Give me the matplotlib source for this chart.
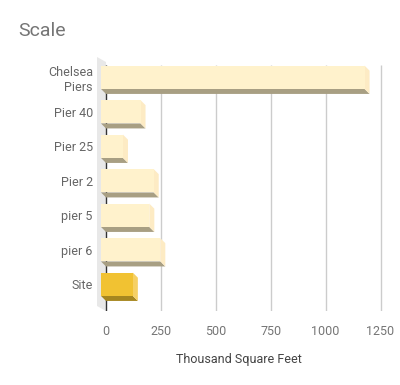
import numpy as np
import matplotlib.pyplot as plt
from matplotlib.patches import Polygon

plt.rcParams['font.family'] = ['Roboto', 'DejaVu Sans']

categories = ['Chelsea\nPiers', 'Pier 40', 'Pier 25', 'Pier 2', 'pier 5', 'pier 6', 'Site']
values = [1200, 180, 100, 240, 220, 270, 145]
x_ticks = [0, 250, 500, 750, 1000, 1250]

front_cols = ['#FFF2CC'] * 6 + ['#F1C232']
side_cols = ['#FDEBC4'] * 6 + ['#F6D064']
bottom_cols = ['#A89F83'] * 6 + ['#A6861F']

fig = plt.figure(figsize=(4, 3.85), dpi=100)
ax = fig.add_axes([97 / 400, (385 - 311) / 385, 293 / 400, 254 / 385])

xmin, xmax = -41, 1293
ymin, ymax = -0.588, 6.774
d = 22.8   # depth offset (x, data units)
dy = 0.145  # depth offset (y, category units)
h = 0.675

# left "wall" of the 3d box
wall = Polygon([(xmin, ymin), (0, ymin + dy), (0, ymax), (xmin, ymax - dy)],
               closed=True, facecolor='#E8E8E8', edgecolor='none', zorder=0)
ax.add_patch(wall)

ax.vlines(x_ticks[1:], -0.37, ymax, color='#CCCCCC', lw=1, zorder=1)
ax.vlines([0], -0.37, ymax, color='#333333', lw=1, zorder=1)

y = np.arange(len(categories))
ax.barh(y, values, left=-d, height=h, color=front_cols, zorder=3)
for i, v in enumerate(values):
    yt, yb = i - h / 2, i + h / 2
    bottom = Polygon([(-d, yb), (v - d, yb), (v, yb + dy), (0, yb + dy)],
                     closed=True, facecolor=bottom_cols[i], edgecolor='none', zorder=2)
    side = Polygon([(v - d, yt), (v, yt + dy), (v, yb + dy), (v - d, yb)],
                   closed=True, facecolor=side_cols[i], edgecolor='none', zorder=2)
    ax.add_patch(bottom)
    ax.add_patch(side)

ax.set_xlim(xmin, xmax)
ax.set_ylim(ymax, ymin)
ax.set_yticks(y)
ax.set_yticklabels(categories, fontsize=9, color='#666666')
ax.set_xticks(x_ticks)
ax.set_xticklabels([str(t) for t in x_ticks], fontsize=9, color='#757575')
ax.tick_params(axis='y', length=0, pad=3)
ax.tick_params(axis='x', length=0, pad=10)
for s in ax.spines.values():
    s.set_visible(False)

ax.set_xlabel('Thousand Square Feet', fontsize=9, color='#444444', va='center')
ax.xaxis.set_label_coords((239 - 97) / 293, (311 - 359) / 254)

fig.text(18 / 400, 1 - 31 / 385, 'Scale', fontsize=14, color='#757575', va='center')

fig.savefig('out.png', dpi=100)
